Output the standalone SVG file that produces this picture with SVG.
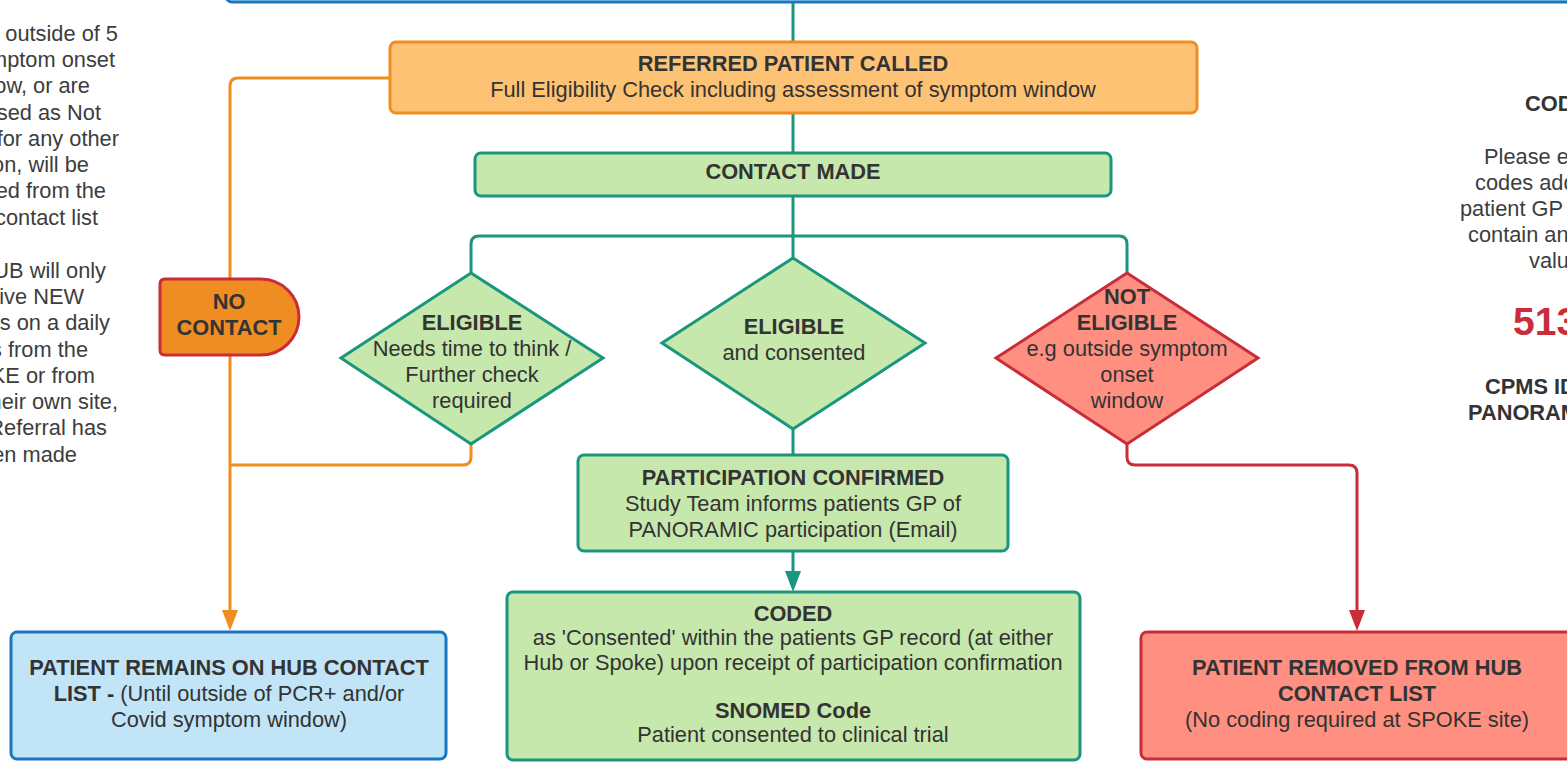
<svg xmlns="http://www.w3.org/2000/svg" width="1567" height="764" viewBox="0 0 1567 764">
<defs>
<style>
text{font-family:"Liberation Sans",Arial,sans-serif;font-size:21.8px;fill:#333}
.c{text-anchor:middle}
.e{text-anchor:end}
.b{font-weight:bold}
.orange{fill:#FEC274;stroke:#EF8D22;stroke-width:3}
.green{fill:#C7E8AC;stroke:#19967D;stroke-width:3}
.red{fill:#FF8F80;stroke:#C92D39;stroke-width:3}
.blue{fill:#C1E4F7;stroke:#1B76C2;stroke-width:3}
.nc{fill:#EF8D22;stroke:#C92D39;stroke-width:3}
.ln{fill:none;stroke-width:3;stroke-linejoin:round}
.lt{stroke:#19967D}
.lo{stroke:#EF8D22}
.lr{stroke:#C92D39}
.side{fill:#3d3d3d}
</style>
<marker id="ao" markerUnits="userSpaceOnUse" markerWidth="22" markerHeight="16" refX="1" refY="8" orient="auto"><path d="M0,0 L21,8 L0,16 Z" fill="#EF8D22"/></marker>
<marker id="at" markerUnits="userSpaceOnUse" markerWidth="22" markerHeight="16" refX="1" refY="8" orient="auto"><path d="M0,0 L21,8 L0,16 Z" fill="#19967D"/></marker>
<marker id="ar" markerUnits="userSpaceOnUse" markerWidth="22" markerHeight="16" refX="1" refY="8" orient="auto"><path d="M0,0 L21,8 L0,16 Z" fill="#C92D39"/></marker>
</defs>
<rect width="1567" height="764" fill="#fff"/>

<g id="connectors">
<path class="ln lt" d="M793 2 V42"/>
<path class="ln lt" d="M793 113 V153"/>
<path class="ln lt" d="M793 196 V258"/>
<path class="ln lt" d="M471 273 V244 Q471 236 479 236 H1119 Q1127 236 1127 244 V273"/>
<path class="ln lt" d="M793 429 V455"/>
<path class="ln lt" d="M793 551 V572" marker-end="url(#at)"/>
<path class="ln lo" d="M390 78 H238 Q230 78 230 86 V279"/>
<path class="ln lo" d="M230 355 V611" marker-end="url(#ao)"/>
<path class="ln lo" d="M471 444 V457 Q471 465 463 465 H230"/>
<path class="ln lr" d="M1127 444 V457 Q1127 465 1135 465 H1349 Q1357 465 1357 473 V611" marker-end="url(#ar)"/>
</g>

<g id="top-box"><rect class="blue" x="226" y="-80" width="1400" height="82" rx="6"/></g>

<g id="referred">
<rect class="orange" x="390" y="42" width="807" height="71" rx="6"/>
<text class="c b" x="793" y="71">REFERRED PATIENT CALLED</text>
<text class="c" x="793" y="97">Full Eligibility Check including assessment of symptom window</text>
</g>

<g id="contact-made">
<rect class="green" x="475" y="153" width="636" height="43" rx="6"/>
<text class="c b" x="793" y="179">CONTACT MADE</text>
</g>

<g id="no-contact">
<path class="nc" d="M165 279 H261 A38 38 0 0 1 261 355 H165 Q160 355 160 350 V284 Q160 279 165 279 Z"/>
<text class="c b" x="229" y="309">NO</text>
<text class="c b" x="229" y="335">CONTACT</text>
</g>

<g id="eligible-think">
<path class="green" d="M471 273 L603 358 L471 444 L341 358 Z"/>
<text class="c b" x="472" y="330">ELIGIBLE</text>
<text class="c" x="472" y="356">Needs time to think /</text>
<text class="c" x="472" y="382">Further check</text>
<text class="c" x="472" y="408">required</text>
</g>

<g id="eligible-consented">
<path class="green" d="M793 258 L925 343 L793 429 L662 343 Z"/>
<text class="c b" x="794" y="334">ELIGIBLE</text>
<text class="c" x="794" y="360">and consented</text>
</g>

<g id="not-eligible">
<path class="red" d="M1127 273 L1258 358 L1127 444 L996 358 Z"/>
<text class="c b" x="1127" y="304">NOT</text>
<text class="c b" x="1127" y="330">ELIGIBLE</text>
<text class="c" x="1127" y="356">e.g outside symptom</text>
<text class="c" x="1127" y="382">onset</text>
<text class="c" x="1127" y="408">window</text>
</g>

<g id="participation">
<rect class="green" x="578" y="455" width="430" height="96" rx="6"/>
<text class="c b" x="793" y="485">PARTICIPATION CONFIRMED</text>
<text class="c" x="793" y="511">Study Team informs patients GP of</text>
<text class="c" x="793" y="537">PANORAMIC participation (Email)</text>
</g>

<g id="coded">
<rect class="green" x="507" y="592" width="573" height="168" rx="6"/>
<text class="c b" x="793" y="621">CODED</text>
<text class="c" x="793" y="645"> as 'Consented' within the patients GP record (at either</text>
<text class="c" x="793" y="670">Hub or Spoke) upon receipt of participation confirmation</text>
<text class="c b" x="793" y="718">SNOMED Code</text>
<text class="c" x="793" y="742">Patient consented to clinical trial</text>
</g>

<g id="remains">
<rect class="blue" x="11" y="632" width="435" height="127" rx="6"/>
<text class="c b" x="229" y="675">PATIENT REMAINS ON HUB CONTACT</text>
<text class="c" x="229" y="701"><tspan class="b">LIST - </tspan>(Until outside of PCR+ and/or</text>
<text class="c" x="229" y="727">Covid symptom window)</text>
</g>

<g id="removed">
<rect class="red" x="1141" y="632" width="460" height="127" rx="6"/>
<text class="c b" x="1357" y="675">PATIENT REMOVED FROM HUB</text>
<text class="c b" x="1357" y="701">CONTACT LIST</text>
<text class="c" x="1357" y="727">(No coding required at SPOKE site)</text>
</g>

<g id="left-note">
<text class="e side" x="118" y="41">outside of 5</text>
<text class="e side" x="115" y="67">mptom onset</text>
<text class="e side" x="90" y="93">ow, or are</text>
<text class="e side" x="101" y="120">sed as Not</text>
<text class="e side" x="119" y="146">for any other</text>
<text class="e side" x="89" y="172">on, will be</text>
<text class="e side" x="106" y="198">ed from the</text>
<text class="e side" x="98" y="225">contact list</text>
<text class="e side" x="106" y="278">UB will only</text>
<text class="e side" x="84" y="304">ive NEW</text>
<text class="e side" x="110" y="330">s on a daily</text>
<text class="e side" x="88" y="357">s from the</text>
<text class="e side" x="95" y="383">KE or from</text>
<text class="e side" x="118" y="409">heir own site,</text>
<text class="e side" x="107" y="435">Referral has</text>
<text class="e side" x="77" y="462">en made</text>
</g>

<g id="right-note">
<text class="b" x="1525" y="111">COD</text>
<text class="side" x="1484" y="164">Please e</text>
<text class="side" x="1475" y="190">codes add</text>
<text class="side" x="1460" y="216">patient GP</text>
<text class="side" x="1468" y="242">contain an</text>
<text class="side" x="1529" y="268">valu</text>
<text class="b" x="1513" y="335" style="font-size:39px;fill:#C92D39">513</text>
<text class="b" x="1485" y="394">CPMS ID</text>
<text class="b" x="1468" y="420">PANORAM</text>
</g>
</svg>
